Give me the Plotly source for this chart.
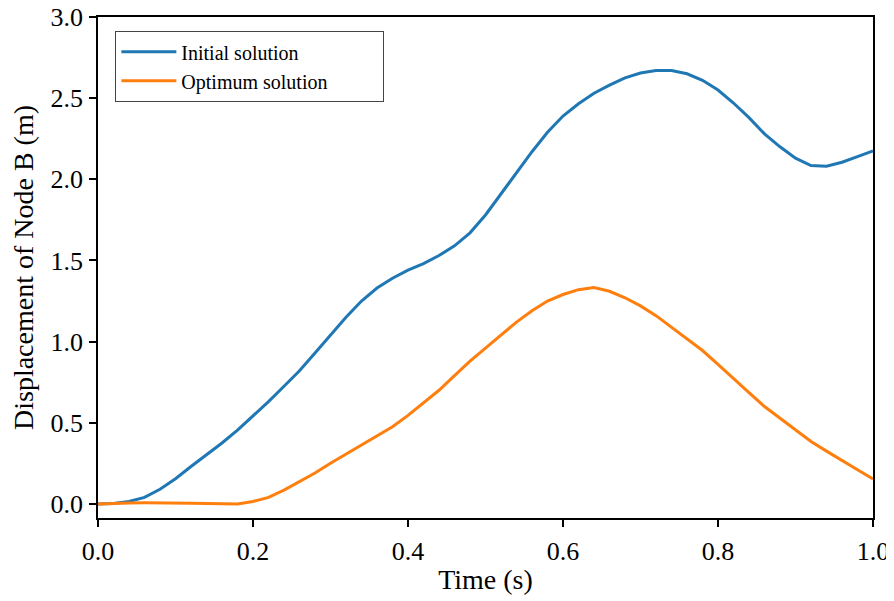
import plotly.graph_objects as go

time_s = [round(i * 0.02, 2) for i in range(51)]

initial_solution = [0.0, 0.003, 0.015, 0.04, 0.09, 0.155, 0.23, 0.30, 0.375, 0.455,
                    0.54, 0.63, 0.725, 0.82, 0.93, 1.04, 1.15, 1.25, 1.33, 1.39,
                    1.44, 1.48, 1.53, 1.59, 1.67, 1.78, 1.91, 2.04, 2.17, 2.29,
                    2.39, 2.465, 2.53, 2.58, 2.625, 2.655, 2.67, 2.67, 2.65, 2.61,
                    2.55, 2.47, 2.38, 2.28, 2.20, 2.13, 2.085, 2.08, 2.105, 2.14,
                    2.175]

optimum_solution = [0.0, 0.004, 0.006, 0.007, 0.007, 0.006, 0.004, 0.002, 0.002, 0.0,
                    0.015, 0.04, 0.085, 0.135, 0.19, 0.25, 0.305, 0.36, 0.415, 0.475,
                    0.545, 0.62, 0.70, 0.79, 0.88, 0.96, 1.04, 1.12, 1.19, 1.25,
                    1.29, 1.32, 1.333, 1.31, 1.27, 1.22, 1.16, 1.09, 1.02, 0.945,
                    0.86, 0.77, 0.685, 0.60, 0.53, 0.455, 0.385, 0.325, 0.265, 0.21,
                    0.153]

x_ticks = [0, 0.2, 0.4, 0.6, 0.8, 1.0]
x_tick_labels = ["0.0", "0.2", "0.4", "0.6", "0.8", "1.0"]
y_ticks = [0, 0.5, 1.0, 1.5, 2.0, 2.5, 3.0]
y_tick_labels = ["0.0", "0.5", "1.0", "1.5", "2.0", "2.5", "3.0"]

FONT = "Liberation Serif"
PAD = "\u00a0" * 10

fig = go.Figure()
fig.add_trace(go.Scatter(x=time_s, y=initial_solution, mode="lines",
                         name="Initial solution" + PAD,
                         line=dict(color="#1f77b4", width=3)))
fig.add_trace(go.Scatter(x=time_s, y=optimum_solution, mode="lines",
                         name="Optimum solution" + PAD,
                         line=dict(color="#ff7f0e", width=3)))

axis_common = dict(showline=True, linecolor="black", linewidth=1.8, mirror=True,
                   ticks="outside", ticklen=7, tickwidth=1.6, tickcolor="black",
                   showgrid=False, zeroline=False, automargin=False,
                   ticklabeloverflow="allow",
                   tickfont=dict(family=FONT, size=26, color="black"))

fig.update_xaxes(range=[0, 1.0], tickvals=x_ticks, ticktext=x_tick_labels,
                 ticklabelstandoff=2,
                 title=dict(text="Time (s)", font=dict(family=FONT, size=28, color="black"),
                            standoff=4),
                 **axis_common)
fig.update_yaxes(range=[-0.087, 3.0], tickvals=y_ticks, ticktext=y_tick_labels,
                 ticklabelstandoff=1,
                 title=dict(text="Displacement of Node B (m)",
                            font=dict(family=FONT, size=28, color="black"), standoff=10),
                 **axis_common)

# the page body adds an 8px offset, so the figure is 8px smaller and shifted
fig.update_layout(
    width=886, height=593,
    margin=dict(l=90, r=21, t=9, b=83),
    paper_bgcolor="white", plot_bgcolor="white",
    showlegend=True,
    legend=dict(x=0.022, y=0.972, xanchor="left", yanchor="top",
                bgcolor="rgba(255,255,255,0.8)", bordercolor="#444", borderwidth=1.3,
                font=dict(family=FONT, size=20, color="black"),
                itemwidth=55, tracegroupgap=0),
)

fig.write_html("out.html")
